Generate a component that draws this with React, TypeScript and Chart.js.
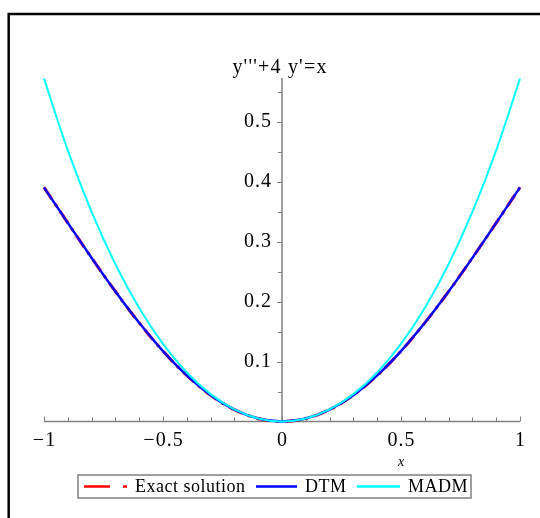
import React, { useEffect, useRef } from "react";
import { Chart, registerables } from "chart.js";

Chart.register(...registerables);

const xValues = [-1, -0.9, -0.8, -0.7, -0.6, -0.5, -0.4, -0.3, -0.2, -0.1, 0, 0.1, 0.2, 0.3, 0.4, 0.5, 0.6, 0.7, 0.8, 0.9, 1];
const exactValues = [0.3905, 0.3314, 0.273, 0.2169, 0.1646, 0.1174, 0.0769, 0.044, 0.0198, 0.005, 0, 0.005, 0.0198, 0.044, 0.0769, 0.1174, 0.1646, 0.2169, 0.273, 0.3314, 0.3905];
const dtmValues = [0.3905, 0.3314, 0.273, 0.2169, 0.1646, 0.1174, 0.0769, 0.044, 0.0198, 0.005, 0, 0.005, 0.0198, 0.044, 0.0769, 0.1174, 0.1646, 0.2169, 0.273, 0.3314, 0.3905];
const madmValues = [0.572, 0.4522, 0.3495, 0.2623, 0.1893, 0.1295, 0.0818, 0.0456, 0.0201, 0.005, 0, 0.005, 0.0201, 0.0456, 0.0818, 0.1295, 0.1893, 0.2623, 0.3495, 0.4522, 0.572];

const xTickLabels = ["\u22121", "\u22120.5", "0", "0.5", "1"];
const xTickValues = [-1, -0.5, 0, 0.5, 1];
const yTickValues = [0.1, 0.2, 0.3, 0.4, 0.5];
const yTickLabels = ["0.1", "0.2", "0.3", "0.4", "0.5"];
const titleText = "y'''+4 y'=x";
const xAxisTitle = "x";
const seriesNames = ["Exact solution", "DTM", "MADM"];

const SERIF = "'Liberation Serif', 'DejaVu Serif', serif";

const axesPlugin = {
  id: "mapleAxes",
  beforeDraw(chart: any) {
    const ctx = chart.ctx;
    ctx.save();
    ctx.strokeStyle = "#000";
    ctx.lineWidth = 2.5;
    ctx.beginPath();
    ctx.moveTo(8.7, 700);
    ctx.lineTo(8.7, 14);
    ctx.lineTo(700, 14);
    ctx.stroke();

    const xs = chart.scales.x;
    const ys = chart.scales.y;
    const x0 = xs.getPixelForValue(0);
    const y0 = ys.getPixelForValue(0);
    ctx.strokeStyle = "#808080";
    ctx.lineWidth = 1.5;
    ctx.beginPath();
    ctx.moveTo(xs.getPixelForValue(-1), y0);
    ctx.lineTo(xs.getPixelForValue(1), y0);
    ctx.stroke();
    ctx.beginPath();
    ctx.moveTo(x0, y0);
    ctx.lineTo(x0, ys.getPixelForValue(ys.max));
    ctx.stroke();
    ctx.lineWidth = 1;
    for (let i = -10; i <= 10; i++) {
      const px = Math.round(xs.getPixelForValue(i / 10)) + 0.5;
      const len = i % 5 === 0 ? 5 : 4;
      ctx.beginPath();
      ctx.moveTo(px, y0);
      ctx.lineTo(px, y0 - len);
      ctx.stroke();
    }
    for (let i = 1; i <= 11; i++) {
      const py = Math.round(ys.getPixelForValue(i * 0.05)) + 0.5;
      ctx.beginPath();
      ctx.moveTo(x0, py);
      ctx.lineTo(x0 - (i % 2 === 0 ? 5 : 4), py);
      ctx.stroke();
    }
    ctx.fillStyle = "#000";
    ctx.font = `20px ${SERIF}`;
    (ctx as any).letterSpacing = "1px";
    ctx.textBaseline = "middle";
    ctx.textAlign = "center";
    xTickValues.forEach((v, i) => {
      ctx.fillText(xTickLabels[i], xs.getPixelForValue(v) + 0.5, y0 + 19);
    });
    ctx.textAlign = "right";
    yTickValues.forEach((v, i) => {
      ctx.fillText(yTickLabels[i], x0 - 10, ys.getPixelForValue(v));
    });
    (ctx as any).letterSpacing = "0px";
    ctx.font = `italic 14px ${SERIF}`;
    ctx.textAlign = "center";
    ctx.fillText(xAxisTitle, xs.getPixelForValue(0.5), y0 + 41);
    ctx.font = `20px ${SERIF}`;
    (ctx as any).letterSpacing = "1.2px";
    ctx.fillText(titleText, x0 - 2, 68);

    // legend
    const lx = 78, ly = 475, lw = 393, lh = 23;
    (ctx as any).letterSpacing = "0.5px";
    ctx.strokeStyle = "#808080";
    ctx.lineWidth = 1.5;
    ctx.strokeRect(lx, ly, lw, lh);
    const cy = ly + lh / 2;
    ctx.lineWidth = 2.5;
    ctx.strokeStyle = "#ff0000";
    ctx.beginPath();
    ctx.moveTo(84, cy); ctx.lineTo(110, cy);
    ctx.moveTo(123, cy); ctx.lineTo(127, cy);
    ctx.stroke();
    ctx.strokeStyle = "#0000ff";
    ctx.beginPath();
    ctx.moveTo(256, cy); ctx.lineTo(297, cy);
    ctx.stroke();
    ctx.strokeStyle = "#00ffff";
    ctx.beginPath();
    ctx.moveTo(357, cy); ctx.lineTo(400, cy);
    ctx.stroke();
    ctx.font = `18px ${SERIF}`;
    ctx.textAlign = "left";
    ctx.fillStyle = "#000";
    ctx.fillText(seriesNames[0], 135, cy + 1);
    ctx.fillText(seriesNames[1], 305, cy + 1);
    ctx.fillText(seriesNames[2], 408, cy + 1);
    ctx.restore();
  },
};

export default function App() {
  const ref = useRef<HTMLCanvasElement | null>(null);
  useEffect(() => {
    if (!ref.current) return;
    const mk = (vals: number[]) => xValues.map((x, i) => ({ x, y: vals[i] }));
    const chart = new Chart(ref.current, {
      type: "line",
      data: {
        datasets: [
          { label: seriesNames[0], order: 3, data: mk(exactValues), borderColor: "#ff0000", borderWidth: 3, borderDash: [14, 6, 3, 6], pointRadius: 0, tension: 0.4, clip: false as any },
          { label: seriesNames[1], order: 2, data: mk(dtmValues), borderColor: "#0000ff", borderWidth: 2.5, pointRadius: 0, tension: 0.4, clip: false as any },
          { label: seriesNames[2], order: 1, data: mk(madmValues), borderColor: "#00ffff", borderWidth: 2, pointRadius: 0, tension: 0.4, clip: false as any },
        ],
      },
      options: {
        responsive: false,
        animation: false,
        layout: { padding: { left: 44, right: 20, top: 78, bottom: 96.5 } },
        scales: {
          x: { type: "linear", min: -1, max: 1, display: false },
          y: { type: "linear", min: 0, max: 0.573, display: false },
        },
        plugins: { legend: { display: false }, title: { display: false }, tooltip: { enabled: false } },
      },
      plugins: [axesPlugin],
    });
    return () => chart.destroy();
  }, []);
  return (
    <div style={{ position: "fixed", left: 0, top: 0, width: 540, height: 518, background: "#fff" }}>
      <canvas ref={ref} width={540} height={518} style={{ width: 540, height: 518 }} />
    </div>
  );
}
